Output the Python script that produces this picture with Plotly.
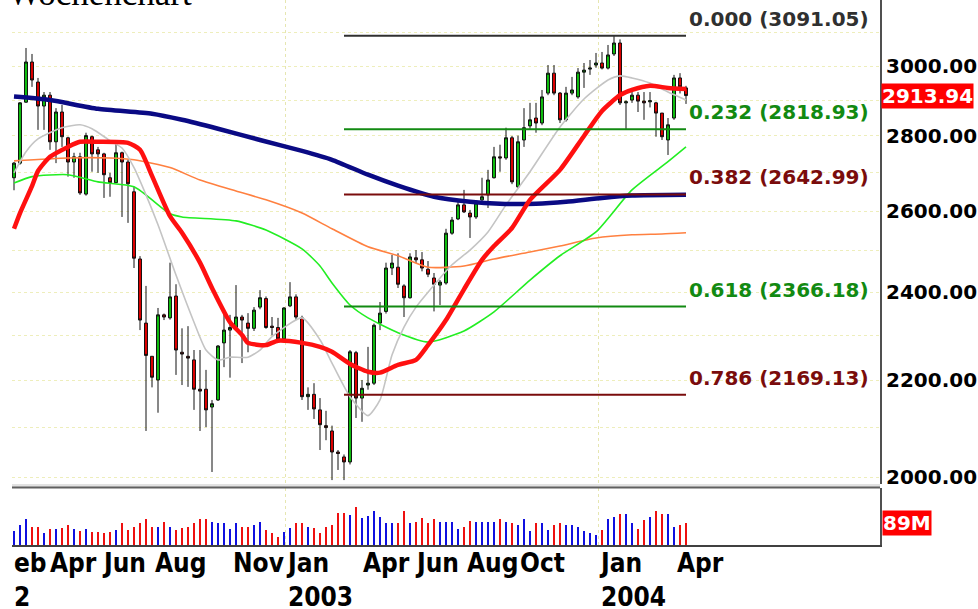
import numpy as np
import pandas as pd
import plotly.graph_objects as go

# ---------------- data (weekly candles) ----------------
first_week = "2002-02-18"
n_weeks = 113

open_ = [2687, 2726, 2895, 3012, 2953, 2884, 2915, 2784, 2867, 2795,
         2729, 2743, 2644, 2798, 2762, 2751, 2687, 2674, 2754, 2729,
         2650, 2480, 2328, 2253, 2201, 2347, 2340, 2391, 2262, 2253,
         2245, 2181, 2181, 2143, 2158, 2283, 2312, 2318, 2342, 2328,
         2316, 2365, 2385, 2321, 2318, 2292, 2368, 2389, 2340, 2165,
         2170, 2137, 2104, 2093, 2050, 2040, 2030, 2261, 2162, 2190,
         2194, 2328, 2355, 2458, 2460, 2415, 2387, 2483, 2478, 2455,
         2434, 2417, 2422, 2544, 2580, 2616, 2595, 2585, 2629, 2642,
         2687, 2743, 2740, 2795, 2663, 2789, 2828, 2850, 2836, 2921,
         2979, 2921, 2845, 2921, 2910, 2982, 2991, 3003, 3009, 2994,
         3036, 3069, 2893, 2901, 2915, 2898, 2896, 2893, 2864, 2789,
         2850, 2965, 2936]
high = [2729, 2895, 3054, 3036, 2965, 2924, 2924, 2878, 2887, 2798,
        2754, 2754, 2809, 2801, 2770, 2754, 2700, 2781, 2757, 2735,
        2663, 2487, 2415, 2253, 2363, 2350, 2471, 2419, 2316, 2321,
        2267, 2267, 2223, 2158, 2278, 2354, 2347, 2417, 2347, 2351,
        2365, 2405, 2390, 2342, 2340, 2365, 2424, 2395, 2345, 2185,
        2194, 2162, 2135, 2104, 2054, 2045, 2267, 2265, 2201, 2274,
        2327, 2377, 2471, 2490, 2494, 2419, 2494, 2502, 2497, 2475,
        2446, 2429, 2555, 2585, 2624, 2655, 2603, 2626, 2687, 2708,
        2770, 2776, 2823, 2800, 2801, 2878, 2893, 2893, 2930, 3003,
        3003, 2924, 2939, 2968, 2994, 3009, 3018, 3039, 3042, 3063,
        3091.05, 3080, 2900, 2936, 2924, 2924, 2924, 2896, 2864, 2850,
        2974, 2979, 2942]
low = [2654, 2722, 2893, 2939, 2817, 2817, 2762, 2726, 2770, 2690,
       2687, 2642, 2640, 2703, 2700, 2634, 2637, 2674, 2585, 2570,
       2458, 2312, 2093, 2185, 2131, 2335, 2336, 2212, 2190, 2186,
       2137, 2093, 2101, 2010, 2156, 2229, 2206, 2318, 2238, 2262,
       2310, 2360, 2315, 2300, 2287, 2290, 2365, 2335, 2158, 2137,
       2118, 2054, 2074, 1994, 2014, 1994, 2025, 2120, 2112, 2180,
       2190, 2312, 2350, 2441, 2410, 2342, 2385, 2470, 2450, 2436,
       2355, 2370, 2418, 2540, 2577, 2595, 2532, 2580, 2625, 2608,
       2685, 2703, 2735, 2670, 2660, 2770, 2820, 2809, 2830, 2915,
       2915, 2836, 2840, 2915, 2905, 2936, 2974, 2995, 2990, 2990,
       3030, 2887, 2818, 2893, 2867, 2845, 2880, 2798, 2789, 2748,
       2845, 2920, 2890]
close = [2726, 2893, 3012, 2959, 2884, 2915, 2784, 2867, 2798, 2729,
         2743, 2647, 2801, 2751, 2751, 2695, 2674, 2754, 2729, 2671,
         2482, 2335, 2255, 2207, 2347, 2342, 2389, 2267, 2258, 2249,
         2181, 2177, 2137, 2150, 2276, 2312, 2318, 2342, 2335, 2316,
         2358, 2387, 2318, 2318, 2292, 2363, 2389, 2342, 2165, 2170,
         2139, 2106, 2100, 2050, 2047, 2030, 2263, 2162, 2183, 2194,
         2323, 2351, 2458, 2470, 2419, 2387, 2485, 2478, 2458, 2443,
         2419, 2424, 2544, 2577, 2616, 2598, 2585, 2621, 2637, 2681,
         2743, 2740, 2795, 2676, 2784, 2823, 2845, 2836, 2910, 2979,
         2921, 2845, 2921, 2930, 2982, 2988, 2994, 3009, 2994, 3033,
         3069, 2893, 2896, 2915, 2898, 2893, 2899, 2864, 2798, 2831,
         2965, 2939, 2913.94]
volume_m = [57, 81, 105, 73, 73, 49, 65, 65, 69, 81,
            65, 57, 65, 53, 53, 49, 53, 61, 89, 61,
            73, 89, 105, 73, 73, 93, 73, 61, 69, 73,
            89, 105, 105, 93, 89, 89, 65, 89, 73, 73,
            81, 93, 61, 49, 32, 53, 69, 89, 89, 73,
            69, 49, 73, 81, 130, 130, 122, 154, 109, 117,
            138, 113, 89, 89, 89, 138, 89, 93, 109, 89,
            105, 93, 93, 93, 65, 73, 97, 93, 93, 93,
            93, 105, 93, 89, 81, 105, 57,
            89, 89, 61, 81, 89, 81, 81, 73, 57, 49, 40, 61, 105, 113,
            126, 126, 89, 65, 101, 113, 138, 126, 126, 73, 81, 89]

# moving averages, read at selected weeks (week number 1..113)
ma_blue_wk = [1, 7, 15, 24, 29, 35, 42, 49, 54, 60, 65, 71, 77, 82, 88, 93, 99, 104, 113]
ma_blue = [2911, 2901, 2876, 2862, 2845, 2820, 2789, 2759, 2735, 2695, 2666, 2637,
           2624, 2619, 2619, 2624, 2634, 2640, 2642]
ma_red_wk = [1, 2, 4, 5, 7, 10, 12, 15, 20, 22, 24, 27, 29, 32, 34, 37, 39, 40, 43, 45,
             49, 52, 54, 57, 60, 62, 65, 68, 70, 73, 76, 79, 81, 84, 87, 92, 96, 99,
             102, 104, 107, 110, 113]
ma_red = [2555, 2595, 2665, 2705, 2743, 2770, 2784, 2784, 2781, 2762, 2692, 2587, 2545,
          2471, 2410, 2330, 2301, 2283, 2278, 2288, 2283, 2274, 2263, 2236, 2219, 2217,
          2234, 2245, 2278, 2335, 2407, 2478, 2512, 2557, 2629, 2708, 2800, 2870, 2915,
          2930, 2942, 2936, 2933]
ma_gray_wk = [1, 3, 5, 9, 12, 14, 17, 19, 21, 23, 25, 28, 31, 33, 35, 37, 40, 42, 44,
              49, 52, 54, 57, 60, 62, 64, 66, 68, 70, 74, 77, 80, 83, 87, 92, 96, 100,
              102, 104, 107, 110, 113]
ma_gray = [2700, 2757, 2792, 2823, 2831, 2820, 2787, 2767, 2714, 2642, 2565, 2441, 2330,
           2267, 2245, 2251, 2251, 2267, 2297, 2340, 2290, 2238, 2165, 2125, 2158, 2256,
           2319, 2365, 2400, 2466, 2502, 2547, 2616, 2703, 2825, 2904, 2959, 2971, 2965,
           2950, 2924, 2901]
ma_orange_wk = [1, 10, 17, 21, 27, 32, 38, 43, 49, 54, 60, 65, 70, 76, 81, 87, 92, 98, 104, 109, 113]
ma_orange = [2732, 2740, 2740, 2735, 2714, 2681, 2652, 2629, 2595, 2555, 2510, 2488, 2460,
             2463, 2480, 2497, 2512, 2532, 2540, 2542, 2545]
ma_green_wk = [1, 4, 10, 15, 21, 27, 29, 38, 43, 49, 52, 54, 57, 60, 65, 70, 76, 81, 87,
               92, 98, 104, 110, 113]
ma_green = [2673, 2690, 2695, 2676, 2663, 2593, 2585, 2575, 2552, 2505, 2463, 2422, 2370,
            2340, 2306, 2285, 2310, 2354, 2429, 2488, 2547, 2655, 2730, 2770]

# Fibonacci retracement levels
fib_ratios = ["0.000", "0.232", "0.382", "0.618", "0.786"]
fib_values = [3091.05, 2818.93, 2642.99, 2366.18, 2169.13]
fib_start_wk = 56

# axis labels
price_grid = [2000, 2100, 2200, 2300, 2400, 2500, 2600, 2700, 2800, 2900, 3000, 3100]
price_labels = ["2000.00", "", "2200.00", "", "2400.00", "", "2600.00", "",
                "2800.00", "", "3000.00", ""]
month_dates = ["2002-04-01", "2002-06-01", "2002-08-01", "2002-11-01", "2003-01-01",
               "2003-04-01", "2003-06-01", "2003-08-01", "2003-10-01", "2004-01-01",
               "2004-04-01"]
month_labels = ["Apr", "Jun", "Aug", "Nov", "Jan<br>2003", "Apr", "Jun", "Aug", "Oct",
                "Jan<br>2004", "Apr"]
first_label = "eb<br>2"
year_grid = ["2003-01-01", "2004-01-01"]
last_price_label = "2913.94"
last_volume_label = "89M"
title_text = "Wochenchart"

# ---------------- figure ----------------
dates = pd.date_range(first_week, periods=n_weeks, freq="7D")


def wk(idx_list):
    return [dates[i - 1] for i in idx_list]


fib_colors = ["#303030", "#128a12", "#7a0c0c", "#128a12", "#7a0c0c"]
TICKFONT = dict(family="DejaVu Sans", size=20, color="black", weight="bold")
XFONT = dict(family="Liberation Sans Narrow, DejaVu Sans Condensed, Arial Narrow, sans-serif",
             size=26, color="black", weight="bold")

fig = go.Figure()

# moving averages
for wks, vals, col, w in [
    (ma_orange_wk, ma_orange, "#ff8040", 1.6),
    (ma_green_wk, ma_green, "#22ee22", 1.6),
    (ma_gray_wk, ma_gray, "#c4c4c4", 1.6),
    (ma_blue_wk, ma_blue, "#0a0a84", 4.5),
    (ma_red_wk, ma_red, "#ff1010", 4.5),
]:
    fig.add_trace(go.Scatter(x=wk(wks), y=vals, mode="lines",
                             line=dict(color=col, width=w, shape="spline", smoothing=0.6),
                             showlegend=False, hoverinfo="skip"))

# fibonacci lines
for v, col in zip(fib_values, fib_colors):
    fig.add_trace(go.Scatter(x=[dates[fib_start_wk - 1], dates[-1]], y=[v, v], mode="lines",
                             line=dict(color=col, width=2), showlegend=False, hoverinfo="skip"))

# candles
fig.add_trace(go.Candlestick(
    x=dates, open=open_, high=high, low=low, close=close,
    increasing=dict(fillcolor="#10c010", line=dict(color="#101010", width=1)),
    decreasing=dict(fillcolor="#e00000", line=dict(color="#101010", width=1)),
    showlegend=False, whiskerwidth=0))

# volume
vol_colors = ["#1010e0" if c >= o else "#ee1010" for o, c in zip(open_, close)]
fig.add_trace(go.Bar(x=dates, y=volume_m, marker=dict(color=vol_colors, line=dict(width=0)),
                     width=1.7 * 86400000, yaxis="y2", showlegend=False, hoverinfo="skip"))

# layout geometry
H_PLOT = 545.0
main_bottom = (H_PLOT - 484) / H_PLOT
vol_top = (H_PLOT - 488) / H_PLOT
x_start = dates[0] - pd.Timedelta(days=2 / 6 * 7)
x_end = dates[0] + pd.Timedelta(days=(880 - 14) / 6 * 7)

annotations = []
for lab, v, col in zip(fib_ratios, fib_values, fib_colors):
    annotations.append(dict(x=dates[-1], xref="x", y=np.log10(v), yref="y",
                            text=f"{lab} ({v:.2f})", showarrow=False,
                            xanchor="left", yanchor="bottom", xshift=1, yshift=3,
                            font=dict(family="DejaVu Sans", size=20, color=col, weight="bold")))
for d, lab in zip(month_dates, month_labels):
    annotations.append(dict(x=d, xref="x", y=0, yref="paper", text=lab, showarrow=False,
                            xanchor="left", yanchor="top", align="left", xshift=-2, yshift=-1,
                            font=XFONT))
annotations.append(dict(x=0, xref="paper", y=0, yref="paper", text=first_label, showarrow=False,
                        xanchor="left", yanchor="top", align="left", xshift=0, yshift=-1,
                        font=XFONT))
annotations.append(dict(x=1, xref="paper", y=np.log10(close[-1]), yref="y",
                        text=last_price_label, showarrow=False, xanchor="left", yanchor="middle",
                        xshift=1, bgcolor="#ff0000", borderpad=0,
                        font=dict(family="DejaVu Sans", size=20, color="white", weight="bold")))
annotations.append(dict(x=1, xref="paper", y=volume_m[-1], yref="y2",
                        text=last_volume_label, showarrow=False, xanchor="left", yanchor="middle",
                        xshift=2, bgcolor="#ff0000", borderpad=0,
                        font=dict(family="DejaVu Sans", size=20, color="white", weight="bold")))
annotations.append(dict(x=0, xref="paper", y=1, yref="paper", text=title_text, showarrow=False,
                        xanchor="left", yanchor="bottom", xshift=-6, yshift=-15,
                        font=dict(family="Liberation Serif", size=35, color="black")))

fig.update_layout(
    width=978, height=609,
    margin=dict(l=12, r=98, t=0, b=64),
    paper_bgcolor="white", plot_bgcolor="white",
    showlegend=False,
    xaxis=dict(type="date", range=[x_start, x_end], anchor="y2",
               showticklabels=False, ticks="", showgrid=False, zeroline=False,
               rangeslider=dict(visible=False),
               minor=dict(tickvals=year_grid, showgrid=True, gridcolor="#e6e6b0",
                          griddash="dot", gridwidth=1),
               showline=True, linecolor="#404040", linewidth=2),
    yaxis=dict(domain=[main_bottom, 1], type="log",
               range=[np.log10(1986.3), np.log10(3202)], side="right", anchor="x",
               tickmode="array", tickvals=price_grid, ticktext=price_labels,
               tickfont=TICKFONT, ticks="", showgrid=True, gridcolor="#eeeebb",
               griddash="dot", gridwidth=1, zeroline=False,
               showline=True, linecolor="#505050", linewidth=2),
    yaxis2=dict(domain=[0, vol_top], range=[0, 230], side="right", anchor="x",
                showticklabels=False, ticks="", showgrid=False, zeroline=False,
                showline=True, linecolor="#505050", linewidth=2),
    shapes=[
        dict(type="rect", xref="paper", yref="paper", x0=0, x1=1, y0=vol_top, y1=main_bottom,
             fillcolor="#e2e2e2", line=dict(width=0), layer="above"),
        dict(type="line", xref="paper", yref="paper", x0=0, x1=1, y0=vol_top + 0.001,
             y1=vol_top + 0.001, line=dict(color="#606060", width=2), layer="above"),
    ],
    annotations=annotations,
    bargap=0,
)

fig.write_html("out.html", config={"displayModeBar": False},
               post_script="document.body.style.margin='0';")
